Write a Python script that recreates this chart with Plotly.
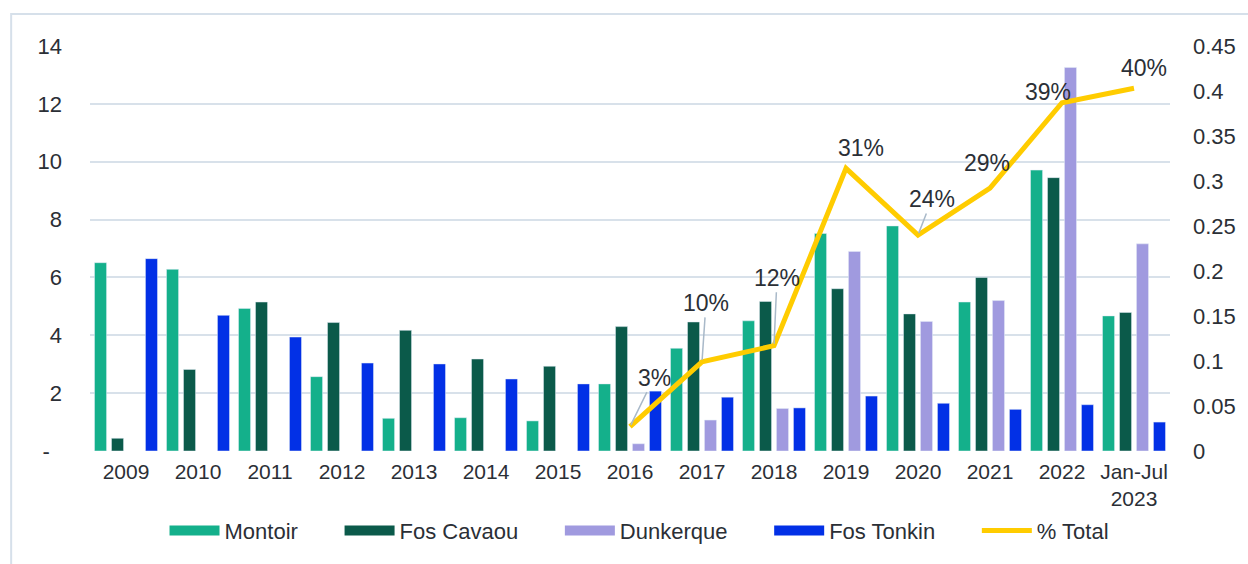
import plotly.graph_objects as go

categories = ["2009", "2010", "2011", "2012", "2013", "2014", "2015", "2016",
              "2017", "2018", "2019", "2020", "2021", "2022", "Jan-Jul<br>2023"]
montoir = [6.51, 6.28, 4.93, 2.57, 1.13, 1.15, 1.04, 2.32, 3.55, 4.50, 7.52, 7.78, 5.15, 9.71, 4.67]
fos_cavaou = [0.44, 2.82, 5.15, 4.44, 4.17, 3.18, 2.93, 4.30, 4.46, 5.17, 5.61, 4.74, 6.00, 9.45, 4.79]
dunkerque = [None, None, None, None, None, None, None, 0.25, 1.07, 1.47, 6.90, 4.48, 5.20, 13.26, 7.16]
fos_tonkin = [6.65, 4.69, 3.94, 3.04, 3.01, 2.49, 2.32, 2.07, 1.86, 1.49, 1.90, 1.65, 1.44, 1.60, 1.00]
pct_categories = categories[7:]
pct_total = [0.027, 0.099, 0.117, 0.314, 0.240, 0.292, 0.387, 0.403]
pct_labels = ["3%", "10%", "12%", "31%", "24%", "29%", "39%", "40%"]
left_tickvals = [0, 2, 4, 6, 8, 10, 12, 14]
left_ticktext = ["-\u00a0\u00a0", "2", "4", "6", "8", "10", "12", "14"]

series_names = ["Montoir", "Fos Cavaou", "Dunkerque", "Fos Tonkin"]
series_values = [montoir, fos_cavaou, dunkerque, fos_tonkin]
series_colors = ["#14B08B", "#0B5A4A", "#A09ADF", "#0230E6"]

# label offsets (pixels) and whether a leader line is shown
label_ax = [24, 4, 3, 15, 14, -3, -14, 10]
label_ay = [-49, -59, -68, -20, -36, -25, -11, -20]
label_leader = [True, True, True, False, True, False, False, False]

TXT = "#2b2f36"
FONT = "Liberation Sans, Arial, sans-serif"
PAD = "\u00a0" * 6  # legend spacing after each entry

fig = go.Figure()
for name, vals, col in zip(series_names, series_values, series_colors):
    fig.add_bar(x=categories, y=vals, name=name, marker_color=col, showlegend=False,
                legendgroup=name)
    # legend proxy: wide swatch like the reference
    fig.add_scatter(x=[None], y=[None], mode="lines", name=name + PAD, legendgroup=name,
                    line=dict(color=col, width=14), hoverinfo="skip")
fig.add_scatter(x=pct_categories, y=pct_total, name="% Total", yaxis="y2", mode="lines",
                line=dict(color="#FFCC00", width=5))

for c, v, t, ax, ay, ld in zip(pct_categories, pct_total, pct_labels, label_ax, label_ay, label_leader):
    fig.add_annotation(x=categories.index(c), y=v, yref="y2", text=t, showarrow=True,
                       arrowhead=0, arrowwidth=1.5,
                       arrowcolor="#A9B9C9" if ld else "rgba(0,0,0,0)",
                       ax=ax, ay=ay, standoff=2,
                       font=dict(size=23, color=TXT, family=FONT))

fig.add_shape(type="rect", xref="paper", yref="paper", x0=-0.073, x1=1.5, y0=-1.0, y1=1.079,
              line=dict(color="#D6E0EA", width=2), fillcolor="rgba(0,0,0,0)", layer="below")

fig.update_layout(
    width=1248, height=564,
    margin=dict(l=90, r=76, t=46, b=113),
    paper_bgcolor="white", plot_bgcolor="white",
    barmode="group", bargap=0.057, bargroupgap=0.29,
    font=dict(family=FONT, color=TXT),
    xaxis=dict(type="category", range=[-0.5, len(categories) - 0.5],
               tickfont=dict(size=21, color=TXT), showgrid=False,
               showline=False, ticklabelstandoff=6),
    yaxis=dict(range=[0, 14], tickvals=left_tickvals, ticktext=left_ticktext,
               tickfont=dict(size=22, color=TXT), gridcolor="#D8E1EA", gridwidth=1.5,
               zeroline=False, showline=False, ticklabelstandoff=27),
    yaxis2=dict(range=[0, 0.45], dtick=0.05, overlaying="y", side="right", showgrid=False,
                zeroline=False, tickfont=dict(size=22, color=TXT), ticklabelstandoff=22),
    legend=dict(orientation="h", x=0.069, xanchor="left", y=-0.197, yanchor="middle",
                font=dict(size=22, color=TXT), itemwidth=50, traceorder="normal"),
    showlegend=True,
)

fig.write_html("out.html", config={"displayModeBar": False},
               post_script="document.body.style.margin='0';")
